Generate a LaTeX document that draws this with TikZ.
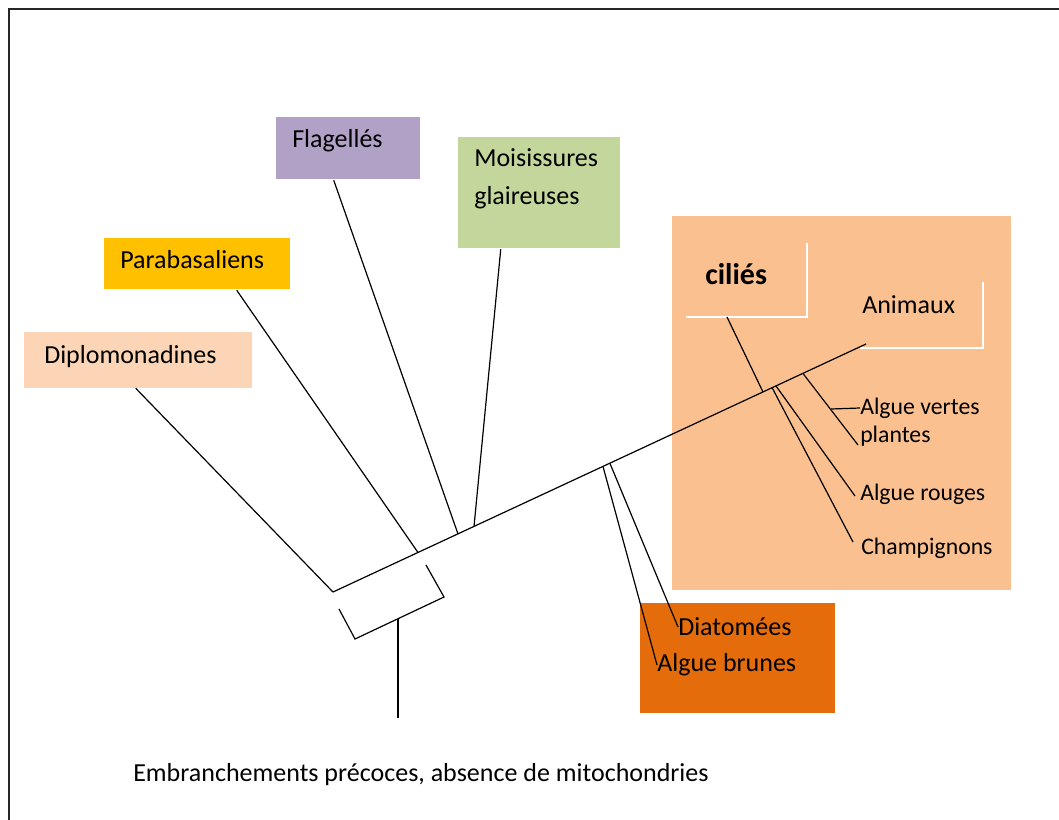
\documentclass[tikz,border=0pt]{standalone}
\usepackage{fontspec}
\setmainfont{Carlito}
\usepackage{xcolor}
\usepackage{tikz}
\usetikzlibrary{positioning, calc}

\definecolor{flagcol}{HTML}{B2A1C7}
\definecolor{moiscol}{HTML}{C3D69B}
\definecolor{paracol}{HTML}{FFC000}
\definecolor{diplcol}{HTML}{FBD5B5}
\definecolor{peachcol}{HTML}{FAC08F}
\definecolor{browncol}{HTML}{E46C0A}

\begin{document}
\begin{tikzpicture}[
    x=0.75pt, y=-0.75pt,
    box/.style={rectangle, inner sep=0pt},
    txt/.style={anchor=west, inner sep=0pt, font=\fontsize{19.5}{23}\selectfont},
    small/.style={anchor=west, inner sep=0pt, font=\fontsize{17.8}{21}\selectfont},
    branch/.style={line width=0.9pt},
    rim/.style={draw=white, line width=1.1pt}
    ]
    \useasboundingbox (0,0) rectangle (1059,820);

    % Frame
    \draw[line width=2.2pt, black!85] (9,820) -- (9,9) -- (1059,9);

    % Coloured boxes
    \node (flag) [box, fill=flagcol, minimum width=108pt, minimum height=46.5pt] at (348,148) {};
    \node (mois) [box, fill=moiscol, minimum width=121.5pt, minimum height=83.25pt] at (539,192.5) {};
    \node (para) [box, fill=paracol, minimum width=139.5pt, minimum height=38.25pt] at (197,263.5) {};
    \node (dipl) [box, fill=diplcol, minimum width=171pt, minimum height=42pt] at (138,360) {};
    \node (peach) [box, fill=peachcol, minimum width=254.25pt, minimum height=280.5pt] at (841.5,403) {};
    \node (brown) [box, fill=browncol, minimum width=146.25pt, minimum height=82.5pt] at (737.5,658) {};

    % Box labels
    \node (flagt) [txt] at (292,141) {Flagellés};
    \node (moist) [txt, align=left, font=\fontsize{19.5}{28.5}\selectfont] at (474,179) {Moisissures\\glaireuses};
    \node (parat) [txt] at (120,260) {Parabasaliens};
    \node (diplt) [txt] at (44,357) {Diplomonadines};

    % Labels in the peach box
    \node (cilies) [txt, font=\fontsize{22.5}{26}\selectfont\bfseries] at (705,274) {ciliés};
    \node (anim) [txt] at (862,305) {Animaux};
    \node (vertes) [small] at (860,408) {Algue vertes};
    \node (plantes) [small] at (860,436) {plantes};
    \node (rouges) [small] at (860,494) {Algue rouges};
    \node (champ) [small] at (861,548) {Champignons};

    % Labels in the brown box
    \node (diat) [txt] at (678,627) {Diatomées};
    \node (brunes) [txt] at (657,665) {Algue brunes};

    % Caption
    \node (early) [txt] at (133,775) {Embranchements précoces, absence de mitochondries};

    % White rims of the text boxes
    \draw[rim] (686,317) -- (807,317) -- (807,243);
    \draw[rim] (860,348) -- (983,348) -- (983,282);

    % Tree points
    \coordinate (root) at (398,718);
    \coordinate (rtop) at (398,618.5);
    \coordinate (b1) at (339,609);
    \coordinate (b2) at (355,639);
    \coordinate (b3) at (444,597);
    \coordinate (b4) at (426,565);
    \coordinate (m0) at (333,592);
    \coordinate (m1) at (866,344);
    \coordinate (jpara) at (418,552.5);
    \coordinate (jflag) at (458,534);
    \coordinate (jmois) at (474,526.5);
    \coordinate (jbrun) at (603,466.5);
    \coordinate (jdiat) at (610,463.5);
    \coordinate (jcil) at (763,392);
    \coordinate (jchamp) at (772,387.5);
    \coordinate (jroug) at (776,386);
    \coordinate (jvert) at (803,373.5);
    \coordinate (kvert) at (831,409);

    % Trunk and root bracket
    \draw[branch] (root) -- (rtop);
    \draw[branch] (b1) -- (b2) -- (b3) -- (b4);
    \draw[branch] (m0) -- (m1);

    % Branches to the boxes
    \draw[branch] ($(dipl.south west)+(112,0)$) -- (m0);
    \draw[branch] ($(para.south west)+(133,1)$) -- (jpara);
    \draw[branch] ($(flag.south west)+(58,1)$) -- (jflag);
    \draw[branch] ($(mois.south west)+(43,1)$) -- (jmois);
    \draw[branch] (jbrun) -- (brunes.west);
    \draw[branch] (jdiat) -- (diat.west);
    \draw[branch] (727,317) -- (jcil);
    \draw[branch] (jchamp) -- ($(champ.west)+(-8,-6)$);
    \draw[branch] (jroug) -- ($(rouges.west)+(-5,2)$);
    \draw[branch] (jvert) -- ($(plantes.west)+(-2,9)$);
    \draw[branch] (kvert) -- (vertes.west);
\end{tikzpicture}
\end{document}
